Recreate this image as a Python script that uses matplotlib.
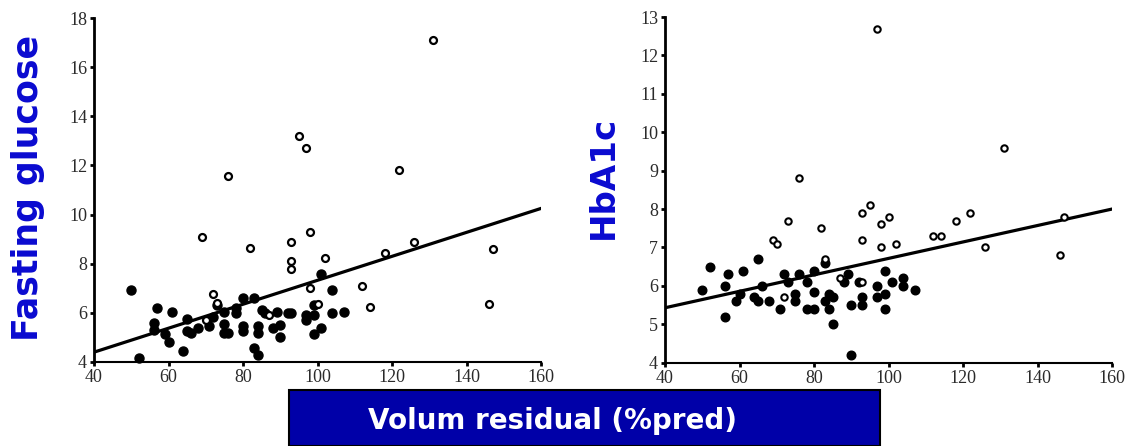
import matplotlib
matplotlib.use("Agg")
import matplotlib.pyplot as plt
from matplotlib.patches import Rectangle

# ---------------- data ----------------
# Left panel: Fasting glucose vs Volum residual
glu_open_x = [131, 95, 97, 76, 122, 69, 82, 93, 98, 93, 93, 102, 126, 118, 147, 146, 112, 114, 98, 100, 72, 73, 70, 87]
glu_open_y = [17.1, 13.2, 12.7, 11.55, 11.8, 9.1, 8.65, 8.9, 9.3, 8.1, 7.8, 8.25, 8.9, 8.45, 8.6, 6.35, 7.1, 6.25, 7.0, 6.35, 6.75, 6.4, 5.7, 5.9]
glu_fill_x = [50, 52, 57, 56, 56, 59, 60, 61, 64, 65, 65, 66, 68, 71, 72, 73, 75, 75, 75, 76, 78, 78, 80, 80, 80,
              83, 83, 84, 84, 84, 85, 86, 88, 89, 90, 90, 92, 93, 97, 97, 99, 99, 99, 101, 101, 104, 104, 107]
glu_fill_y = [6.95, 4.15, 6.2, 5.6, 5.3, 5.15, 4.8, 6.05, 4.45, 5.75, 5.25, 5.2, 5.4, 5.45, 5.85, 6.3, 6.05, 5.55, 5.2, 5.2, 6.2, 6.0, 6.6, 5.45, 5.25,
              6.6, 4.55, 4.3, 5.45, 5.2, 6.1, 6.0, 5.4, 6.05, 5.5, 5.0, 6.0, 6.0, 5.9, 5.7, 5.9, 5.15, 6.3, 7.6, 5.4, 6.95, 6.0, 6.05]
glu_fit_x = [40, 160]
glu_fit_y = [4.4, 10.25]

# Right panel: HbA1c vs Volum residual
hba_open_x = [97, 131, 76, 69, 70, 73, 82, 83, 93, 95, 93, 98, 100, 98, 102, 112, 114, 118, 122, 126, 147, 146, 72, 87, 93]
hba_open_y = [12.7, 9.6, 8.8, 7.2, 7.1, 7.7, 7.5, 6.7, 7.9, 8.1, 7.2, 7.6, 7.8, 7.0, 7.1, 7.3, 7.3, 7.7, 7.9, 7.0, 7.8, 6.8, 5.7, 6.2, 6.1]
hba_fill_x = [50, 52, 56, 56, 57, 59, 60, 61, 64, 65, 65, 66, 68, 71, 72, 73, 75, 75, 76, 78, 78, 80, 80, 80,
              83, 83, 84, 84, 85, 85, 88, 89, 90, 90, 92, 93, 93, 97, 97, 99, 99, 99, 101, 104, 104, 107]
hba_fill_y = [5.9, 6.5, 6.0, 5.2, 6.3, 5.6, 5.8, 6.4, 5.7, 6.7, 5.6, 6.0, 5.6, 5.4, 6.3, 6.1, 5.8, 5.6, 6.3, 5.4, 6.1, 6.4, 5.85, 5.4,
              6.6, 5.6, 5.8, 5.4, 5.7, 5.0, 6.1, 6.3, 5.5, 4.2, 6.1, 5.7, 5.5, 6.0, 5.7, 6.4, 5.8, 5.4, 6.1, 6.2, 6.0, 5.9]
hba_fit_x = [40, 160]
hba_fit_y = [5.43, 8.0]

x_ticks = [40, 60, 80, 100, 120, 140, 160]
glu_ticks = [4, 6, 8, 10, 12, 14, 16, 18]
hba_ticks = [4, 5, 6, 7, 8, 9, 10, 11, 12, 13]

xlabel_text = "Volum residual (%pred)"
glu_label = "Fasting glucose"
hba_label = "HbA1c"

# ---------------- figure ----------------
fig = plt.figure(figsize=(11.28, 4.46), dpi=100)
W, H = 1128, 446

def make_axes(left_px, right_px, top_px, bottom_px):
    return fig.add_axes([left_px / W, 1 - bottom_px / H, (right_px - left_px) / W, (bottom_px - top_px) / H])

ax1 = make_axes(94, 541, 18, 362)
ax2 = make_axes(665, 1112, 17, 362.7)

tick_color = "#2a2a2a"
serif = ["Liberation Serif", "DejaVu Serif"]
label_blue = "#0a0ad0"

def style(ax, yticks, ylim):
    ax.set_xlim(40, 160)
    ax.set_ylim(*ylim)
    ax.set_xticks(x_ticks)
    ax.set_yticks(yticks)
    for s in ["top", "right"]:
        ax.spines[s].set_visible(False)
    ax.spines["left"].set_linewidth(2.0)
    ax.spines["bottom"].set_linewidth(1.5)
    ax.tick_params(axis="both", direction="out", length=3, width=2, colors="black",
                   labelcolor=tick_color, labelsize=13, pad=2)
    for lab in ax.get_xticklabels() + ax.get_yticklabels():
        lab.set_fontfamily(serif)

# Left
ax1.plot(glu_fit_x, glu_fit_y, color="black", lw=2.3, zorder=2)
ax1.plot(glu_fill_x, glu_fill_y, "o", ms=6.5, mfc="black", mec="black", zorder=3, clip_on=False)
ax1.plot(glu_open_x, glu_open_y, "o", ms=5.0, mfc="white", mec="black", mew=1.6, zorder=4, clip_on=False)
style(ax1, glu_ticks, (4, 18))

# Right
ax2.plot(hba_fit_x, hba_fit_y, color="black", lw=2.3, zorder=2)
ax2.plot(hba_fill_x, hba_fill_y, "o", ms=6.2, mfc="black", mec="black", zorder=3, clip_on=False)
ax2.plot(hba_open_x, hba_open_y, "o", ms=4.6, mfc="white", mec="black", mew=1.5, zorder=4, clip_on=False)
style(ax2, hba_ticks, (4, 13))

# Y labels
fig.text(28 / W, 1 - 188 / H, glu_label, rotation=90, ha="center", va="center",
         fontsize=25, fontweight="bold", color=label_blue, family=["DejaVu Sans"])
fig.text(603 / W, 1 - 177 / H, hba_label, rotation=90, ha="center", va="center",
         fontsize=24.5, fontweight="bold", color=label_blue, family=["DejaVu Sans"])

# Bottom banner
rect = Rectangle((289 / W, 0), (880 - 289) / W, (446 - 390) / H, transform=fig.transFigure,
                 facecolor="#0000a8", edgecolor="black", lw=1.5, clip_on=False)
fig.add_artist(rect)
fig.text(552 / W, 1 - 421 / H, xlabel_text, ha="center", va="center",
         fontsize=20, fontweight="bold", color="white", family=["DejaVu Sans"])

fig.savefig("out.png", dpi=100)
